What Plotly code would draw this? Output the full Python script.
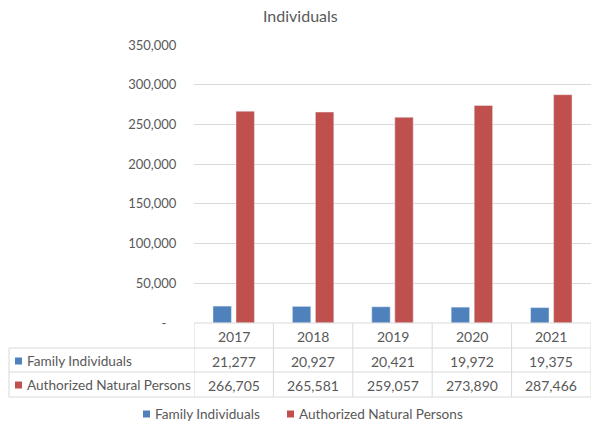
import plotly.graph_objects as go

years = ["2017", "2018", "2019", "2020", "2021"]
family_individuals = [21277, 20927, 20421, 19972, 19375]
authorized_natural_persons = [266705, 265581, 259057, 273890, 287466]
series_names = ["Family Individuals", "Authorized Natural Persons"]
y_tick_vals = [0, 50000, 100000, 150000, 200000, 250000, 300000, 350000]
y_tick_text = ["-\u00a0\u00a0\u00a0", "50,000", "100,000", "150,000", "200,000", "250,000", "300,000", "350,000"]

BLUE = "#4f81bd"
RED = "#c0504d"
TXT = "#595959"
GRID = "#d9d9d9"
FONT = "Lato"

W, H = 593, 427
L, R, T, B = 194, 2, 45, 104
PW, PH = W - L - R, H - T - B


def px(x):
    return (x - L) / PW


def py(y):
    return (H - B - y) / PH


fig = go.Figure()
fig.add_trace(go.Bar(x=years, y=family_individuals, name=series_names[0], marker_color=BLUE))
fig.add_trace(go.Bar(x=years, y=authorized_natural_persons, name=series_names[1], marker_color=RED))

shapes = []
line = dict(color=GRID, width=1)
# horizontal table lines
shapes.append(dict(type="line", xref="paper", yref="paper", x0=0, x1=1, y0=py(323), y1=py(323), line=line))
for yy in [348, 372, 397]:
    shapes.append(dict(type="line", xref="paper", yref="paper", x0=px(9), x1=1, y0=py(yy), y1=py(yy), line=line))
# vertical table lines at category boundaries
for i in range(len(years) + 1):
    shapes.append(dict(type="line", xref="x", yref="paper", x0=i - 0.5, x1=i - 0.5, y0=py(323), y1=py(397), line=line))
shapes.append(dict(type="line", xref="paper", yref="paper", x0=px(9), x1=px(9), y0=py(348), y1=py(397), line=line))

annotations = []
fs = 13.6
for i, yr in enumerate(years):
    annotations.append(dict(x=i, xref="x", y=py(336), yref="paper", text=yr, showarrow=False,
                            font=dict(family=FONT, size=14, color=TXT), xanchor="center", yanchor="middle"))
    annotations.append(dict(x=i, xref="x", y=py(361), yref="paper", text=f"{family_individuals[i]:,}",
                            showarrow=False, font=dict(family=FONT, size=14, color=TXT), xanchor="center", yanchor="middle"))
    annotations.append(dict(x=i, xref="x", y=py(385), yref="paper", text=f"{authorized_natural_persons[i]:,}",
                            showarrow=False, font=dict(family=FONT, size=14, color=TXT), xanchor="center", yanchor="middle"))

# row labels in table
for name, col, yy in [(series_names[0], BLUE, 361), (series_names[1], RED, 385)]:
    shapes.append(dict(type="rect", xref="paper", yref="paper", x0=px(15), x1=px(22), y0=py(yy - 3.5), y1=py(yy + 3.5),
                       fillcolor=col, line=dict(width=0)))
    annotations.append(dict(x=px(25), xref="paper", y=py(yy), yref="paper", text=name, showarrow=False,
                            font=dict(family=FONT, size=fs, color=TXT), xanchor="left", yanchor="middle"))

# legend
for name, col, xs in [(series_names[0], BLUE, 143), (series_names[1], RED, 287)]:
    shapes.append(dict(type="rect", xref="paper", yref="paper", x0=px(xs), x1=px(xs + 7), y0=py(414 - 3.5), y1=py(414 + 3.5),
                       fillcolor=col, line=dict(width=0)))
    annotations.append(dict(x=px(xs + 10), xref="paper", y=py(414), yref="paper", text=name, showarrow=False,
                            font=dict(family=FONT, size=fs, color=TXT), xanchor="left", yanchor="middle"))

# title
annotations.append(dict(x=px(300), xref="paper", y=py(16), yref="paper", text="Individuals", showarrow=False,
                        font=dict(family=FONT, size=16, color=TXT), xanchor="center", yanchor="middle"))

fig.update_layout(
    width=W, height=H,
    margin=dict(l=L, r=R, t=T, b=B, pad=0),
    paper_bgcolor="white", plot_bgcolor="white",
    showlegend=False,
    barmode="group", bargap=0.42, bargroupgap=0.2,
    shapes=shapes, annotations=annotations,
    font=dict(family=FONT, size=13, color=TXT),
)
fig.update_xaxes(type="category", range=[-0.5, 4.5], showticklabels=False, showgrid=False, zeroline=False,
                 showline=False, ticks="")
fig.update_yaxes(range=[0, 350000], tickvals=y_tick_vals, ticktext=y_tick_text, showgrid=True, gridcolor=GRID,
                 gridwidth=1, zeroline=False, showline=False, ticks="outside", ticklen=14,
                 tickcolor="rgba(0,0,0,0)", tickfont=dict(family=FONT, size=13, color=TXT))

fig.write_html("out.html", config={"displayModeBar": False},
               post_script="document.body.style.margin='0px';")
